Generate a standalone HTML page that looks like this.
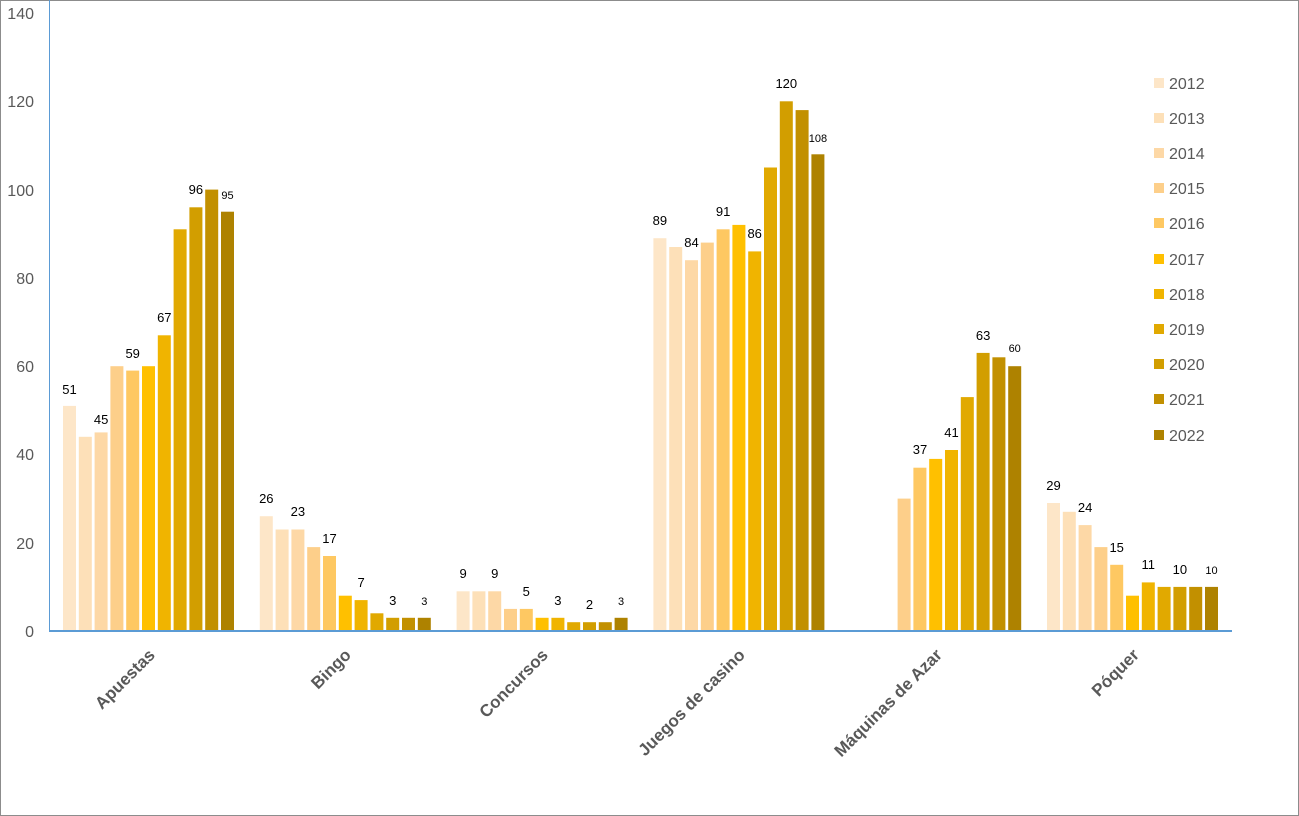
<!DOCTYPE html>
<html><head><meta charset="utf-8"><style>
html,body{margin:0;padding:0;background:#fff}
svg{display:block;font-family:"Liberation Sans",Calibri,sans-serif}
</style></head><body>
<svg width="1299" height="816" xmlns="http://www.w3.org/2000/svg">
<rect x="0.5" y="0.5" width="1298" height="815" fill="#fff" stroke="#8c8c8c"/>
<line x1="49.5" y1="0" x2="49.5" y2="632" stroke="#5b9bd5" stroke-width="1"/>
<g font-size="16" fill="#595959" text-anchor="end">
<text x="34" y="637">0</text><text x="34" y="549">20</text><text x="34" y="460">40</text><text x="34" y="372">60</text><text x="34" y="284">80</text><text x="34" y="196">100</text><text x="34" y="107">120</text><text x="34" y="19">140</text>
</g>
<g transform="translate(0,631) scale(1,-1)">
<g fill="#FDE6C8"><rect x="63" y="0" width="13" height="225.1"/><rect x="259.8" y="0" width="13" height="114.8"/><rect x="456.6" y="0" width="13" height="39.7"/><rect x="653.4" y="0" width="13" height="392.8"/><rect x="1047" y="0" width="13" height="128"/></g>
<g fill="#FDE0B8"><rect x="78.8" y="0" width="13" height="194.2"/><rect x="275.6" y="0" width="13" height="101.5"/><rect x="472.4" y="0" width="13" height="39.7"/><rect x="669.2" y="0" width="13" height="384"/><rect x="1062.8" y="0" width="13" height="119.2"/></g>
<g fill="#FDD8A6"><rect x="94.6" y="0" width="13" height="198.6"/><rect x="291.4" y="0" width="13" height="101.5"/><rect x="488.2" y="0" width="13" height="39.7"/><rect x="685" y="0" width="13" height="370.8"/><rect x="1078.6" y="0" width="13" height="105.9"/></g>
<g fill="#FDCF8A"><rect x="110.4" y="0" width="13" height="264.8"/><rect x="307.2" y="0" width="13" height="83.9"/><rect x="504" y="0" width="13" height="22.1"/><rect x="700.8" y="0" width="13" height="388.4"/><rect x="897.6" y="0" width="13" height="132.4"/><rect x="1094.4" y="0" width="13" height="83.9"/></g>
<g fill="#FEC862"><rect x="126.2" y="0" width="13" height="260.4"/><rect x="323" y="0" width="13" height="75"/><rect x="519.8" y="0" width="13" height="22.1"/><rect x="716.6" y="0" width="13" height="401.7"/><rect x="913.4" y="0" width="13" height="163.3"/><rect x="1110.2" y="0" width="13" height="66.2"/></g>
<g fill="#FFC000"><rect x="142" y="0" width="13" height="264.8"/><rect x="338.8" y="0" width="13" height="35.3"/><rect x="535.6" y="0" width="13" height="13.2"/><rect x="732.4" y="0" width="13" height="406.1"/><rect x="929.2" y="0" width="13" height="172.1"/><rect x="1126" y="0" width="13" height="35.3"/></g>
<g fill="#F0B400"><rect x="157.8" y="0" width="13" height="295.7"/><rect x="354.6" y="0" width="13" height="30.9"/><rect x="551.4" y="0" width="13" height="13.2"/><rect x="748.2" y="0" width="13" height="379.6"/><rect x="945" y="0" width="13" height="181"/><rect x="1141.8" y="0" width="13" height="48.6"/></g>
<g fill="#E1A900"><rect x="173.6" y="0" width="13" height="401.7"/><rect x="370.4" y="0" width="13" height="17.7"/><rect x="567.2" y="0" width="13" height="8.8"/><rect x="764" y="0" width="13" height="463.5"/><rect x="960.8" y="0" width="13" height="233.9"/><rect x="1157.6" y="0" width="13" height="44.1"/></g>
<g fill="#D29E00"><rect x="189.4" y="0" width="13" height="423.7"/><rect x="386.2" y="0" width="13" height="13.2"/><rect x="583" y="0" width="13" height="8.8"/><rect x="779.8" y="0" width="13" height="529.7"/><rect x="976.6" y="0" width="13" height="278.1"/><rect x="1173.4" y="0" width="13" height="44.1"/></g>
<g fill="#C29000"><rect x="205.2" y="0" width="13" height="441.4"/><rect x="402" y="0" width="13" height="13.2"/><rect x="598.8" y="0" width="13" height="8.8"/><rect x="795.6" y="0" width="13" height="520.9"/><rect x="992.4" y="0" width="13" height="273.7"/><rect x="1189.2" y="0" width="13" height="44.1"/></g>
<g fill="#AE8200"><rect x="221" y="0" width="13" height="419.3"/><rect x="417.8" y="0" width="13" height="13.2"/><rect x="614.6" y="0" width="13" height="13.2"/><rect x="811.4" y="0" width="13" height="476.7"/><rect x="1008.2" y="0" width="13" height="264.8"/><rect x="1205" y="0" width="13" height="44.1"/></g>
</g>
<line x1="49" y1="631" x2="1232" y2="631" stroke="#5b9bd5" stroke-width="2"/>
<g font-size="13" fill="#000" text-anchor="middle">
<text x="69.5" y="394">51</text><text x="101.1" y="424">45</text><text x="132.7" y="358">59</text><text x="164.3" y="322">67</text><text x="195.9" y="194">96</text>
<text x="266.3" y="503">26</text><text x="297.9" y="516">23</text><text x="329.5" y="543">17</text><text x="361.1" y="587">7</text><text x="392.7" y="605">3</text>
<text x="463.1" y="578">9</text><text x="494.7" y="578">9</text><text x="526.3" y="596">5</text><text x="557.9" y="605">3</text><text x="589.5" y="609">2</text>
<text x="659.9" y="225">89</text><text x="691.5" y="247">84</text><text x="723.1" y="216">91</text><text x="754.7" y="238">86</text><text x="786.3" y="88">120</text>
<text x="920" y="454">37</text><text x="951.5" y="437">41</text><text x="983.1" y="340">63</text>
<text x="1053.5" y="490">29</text><text x="1085.1" y="512">24</text><text x="1116.7" y="552">15</text><text x="1148.3" y="569">11</text><text x="1179.9" y="574">10</text>
</g>
<g font-size="11" fill="#000" text-anchor="middle">
<text x="227.5" y="199">95</text><text x="424.3" y="605">3</text><text x="621.1" y="605">3</text><text x="817.9" y="142">108</text><text x="1014.7" y="352">60</text><text x="1211.5" y="574">10</text>
</g>
<g font-size="17" font-weight="bold" fill="#595959" text-anchor="end">
<text transform="translate(156,656) rotate(-45)">Apuestas</text>
<text transform="translate(352,656) rotate(-45)">Bingo</text>
<text transform="translate(549,656) rotate(-45)">Concursos</text>
<text transform="translate(746,656) rotate(-45)">Juegos de casino</text>
<text transform="translate(943,656) rotate(-45)">Máquinas de Azar</text>
<text transform="translate(1140,656) rotate(-45)">Póquer</text>
</g>
<g font-size="16" fill="#595959">
<rect x="1154" y="78" width="10" height="10" fill="#FDE6C8"/><text x="1169" y="89">2012</text>
<rect x="1154" y="113" width="10" height="10" fill="#FDE0B8"/><text x="1169" y="124">2013</text>
<rect x="1154" y="148" width="10" height="10" fill="#FDD8A6"/><text x="1169" y="159">2014</text>
<rect x="1154" y="183" width="10" height="10" fill="#FDCF8A"/><text x="1169" y="194">2015</text>
<rect x="1154" y="218" width="10" height="10" fill="#FEC862"/><text x="1169" y="229">2016</text>
<rect x="1154" y="254" width="10" height="10" fill="#FFC000"/><text x="1169" y="265">2017</text>
<rect x="1154" y="289" width="10" height="10" fill="#F0B400"/><text x="1169" y="300">2018</text>
<rect x="1154" y="324" width="10" height="10" fill="#E1A900"/><text x="1169" y="335">2019</text>
<rect x="1154" y="359" width="10" height="10" fill="#D29E00"/><text x="1169" y="370">2020</text>
<rect x="1154" y="394" width="10" height="10" fill="#C29000"/><text x="1169" y="405">2021</text>
<rect x="1154" y="430" width="10" height="10" fill="#AE8200"/><text x="1169" y="441">2022</text>
</g>
</svg>
</body></html>
